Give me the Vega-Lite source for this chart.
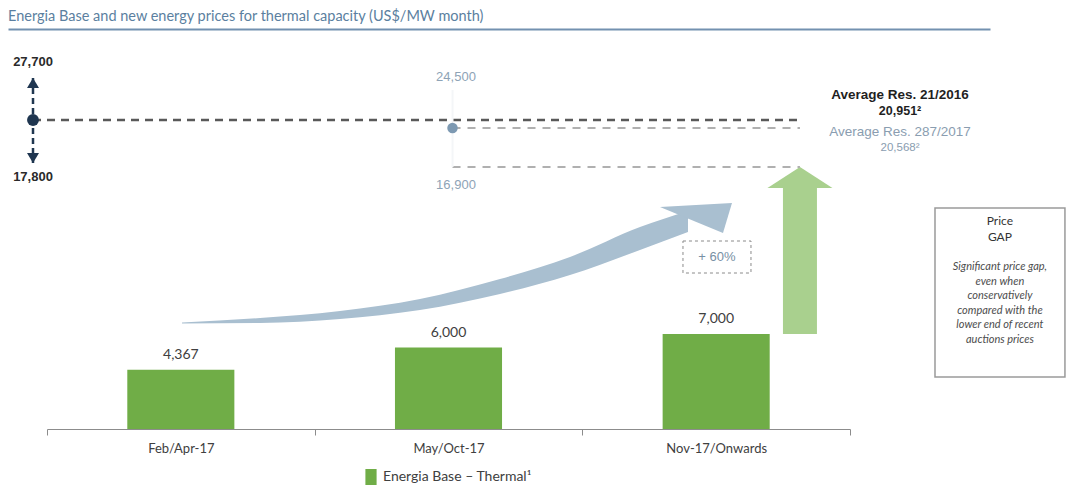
{
  "$schema": "https://vega.github.io/schema/vega-lite/v6.json",
  "width": 982,
  "height": 393,
  "autosize": {"type": "none"},
  "padding": {"left": 8, "top": 36, "right": 80, "bottom": 59},
  "background": "white",
  "title": {
    "text": "Energia Base and new energy prices for thermal capacity (US$/MW month)",
    "anchor": "start",
    "frame": "group",
    "font": "Lato",
    "fontSize": 14.5,
    "fontWeight": "normal",
    "color": "#5b7fa0",
    "offset": 5
  },
  "config": {"view": {"stroke": null}},
  "datasets": {
    "thermal": [
      {"period": "Feb/Apr-17", "value": 4367},
      {"period": "May/Oct-17", "value": 6000},
      {"period": "Nov-17/Onwards", "value": 7000}
    ],
    "auctions": [
      {"res": "21/2016", "title": "Average Res. 21/2016", "low": 17800, "avg": 20951, "high": 27700, "avg_label": "20,951²"},
      {"res": "287/2017", "title": "Average Res. 287/2017", "low": 16900, "avg": 20568, "high": 24500, "avg_label": "20,568²"}
    ],
    "trend": [
      {"t": 0.5044, "upper": 7682, "lower": 7622},
      {"t": 0.7958, "upper": 7949, "lower": 7652},
      {"t": 1.0946, "upper": 8363, "lower": 7889},
      {"t": 1.3935, "upper": 9075, "lower": 8423},
      {"t": 1.6924, "upper": 10260, "lower": 9371},
      {"t": 1.9539, "upper": 11565, "lower": 10498},
      {"t": 2.2154, "upper": 13343, "lower": 11980},
      {"t": 2.3947, "upper": 14291, "lower": 13047}
    ],
    "arrows": [
      {"arrow": "growth"},
      {"arrow": "gap"}
    ],
    "notes": [
      {"id": "growth", "text": "+ 60%"},
      {"id": "gap", "text": "Price GAP"}
    ]
  },
  "layer": [
    {
      "data": {"name": "thermal"},
      "encoding": {
        "x": {
          "field": "period",
          "type": "nominal",
          "sort": null,
          "scale": {"range": [39, 842], "paddingInner": 0, "paddingOuter": 0},
          "axis": {
            "orient": "bottom",
            "title": null,
            "labelAngle": 0,
            "tickBand": "extent",
            "domainColor": "#8c8c8c",
            "tickColor": "#8c8c8c",
            "tickSize": 6,
            "labelFont": "Lato",
            "labelFontSize": 13,
            "labelColor": "#404040",
            "labelPadding": 7
          }
        },
        "y": {
          "field": "value",
          "type": "quantitative",
          "scale": {
            "domain": [0, 7000, 16900, 17800, 20568, 20951, 24500, 27700],
            "range": [393, 298, 131, 127, 92, 84, 54, 42],
            "nice": false,
            "zero": false
          },
          "axis": null
        }
      },
      "layer": [
        {
          "mark": {"type": "bar", "width": {"band": 0.4}},
          "encoding": {
            "color": {
              "datum": "Energia Base – Thermal¹",
              "scale": {"range": ["#70ad47"]},
              "legend": {
                "orient": "none",
                "legendX": 355,
                "legendY": 433,
                "title": null,
                "direction": "horizontal",
                "symbolType": "M-0.7,-1L0.7,-1L0.7,1L-0.7,1Z",
                "symbolSize": 256,
                "symbolStrokeWidth": 0,
                "labelFont": "Lato",
                "labelFontSize": 14,
                "labelColor": "#404040"
              }
            }
          }
        },
        {
          "mark": {"type": "text", "baseline": "bottom", "dy": -8, "font": "Lato", "fontSize": 14, "color": "#404040"},
          "encoding": {"text": {"field": "value", "type": "quantitative", "format": ","}}
        }
      ]
    },
    {
      "layer": [
        {
          "data": {"name": "trend"},
          "mark": {"type": "area", "interpolate": "monotone", "color": "#a9bfd0"},
          "encoding": {
            "x": {
              "field": "t",
              "type": "quantitative",
              "scale": {"domain": [-0.1457, 3.523], "nice": false, "zero": false},
              "axis": {
                "orient": "top",
                "offset": 7,
                "ticks": false,
                "labels": false,
                "grid": false,
                "title": null,
                "domainColor": "#7391b0",
                "domainWidth": 2
              }
            },
            "y": {"field": "upper", "type": "quantitative", "axis": null},
            "y2": {"field": "lower"}
          }
        },
        {
          "data": {"name": "arrows"},
          "transform": [{"filter": "datum.arrow === 'growth'"}],
          "mark": {"type": "point", "shape": "M0.9,-0.375L-0.9,-0.275L0.675,0.375Z", "size": 6400, "filled": true, "opacity": 1, "strokeWidth": 0, "color": "#a9bfd0"},
          "encoding": {
            "x": {"datum": 2.4246, "type": "quantitative"},
            "y": {"datum": 13876, "type": "quantitative", "axis": null}
          }
        },
        {
          "data": {"name": "arrows"},
          "transform": [{"filter": "datum.arrow === 'gap'"}],
          "mark": {"type": "rule", "strokeWidth": 34, "strokeCap": "butt", "color": "#a9d08e"},
          "encoding": {
            "x": {"datum": 2.813, "type": "quantitative"},
            "y": {"datum": 7000, "type": "quantitative", "axis": null},
            "y2": {"datum": 15655}
          }
        },
        {
          "data": {"name": "arrows"},
          "transform": [{"filter": "datum.arrow === 'gap'"}],
          "mark": {"type": "point", "shape": "M0,0L1,0.646L-1,0.646Z", "size": 4225, "filled": true, "opacity": 1, "strokeWidth": 0, "color": "#a9d08e"},
          "encoding": {
            "x": {"datum": 2.813, "type": "quantitative"},
            "y": {"datum": 16900, "type": "quantitative", "axis": null}
          }
        },
        {
          "data": {"name": "auctions"},
          "transform": [{"filter": "datum.res === '21/2016'"}],
          "mark": {"type": "rule", "strokeWidth": 2.5, "strokeDash": [8, 6], "color": "#595959"},
          "encoding": {
            "x": {"datum": -0.0523, "type": "quantitative"},
            "x2": {"datum": 2.813},
            "y": {"field": "avg", "type": "quantitative", "axis": null}
          }
        },
        {
          "data": {"name": "auctions"},
          "transform": [{"filter": "datum.res === '287/2017'"}],
          "mark": {"type": "rule", "strokeWidth": 2, "strokeDash": [8, 7], "color": "#b0b0b0"},
          "encoding": {
            "x": {"datum": 1.515, "type": "quantitative"},
            "x2": {"datum": 2.813},
            "y": {"field": "avg", "type": "quantitative", "axis": null}
          }
        },
        {
          "data": {"name": "auctions"},
          "transform": [{"filter": "datum.res === '287/2017'"}],
          "mark": {"type": "rule", "strokeWidth": 2, "strokeDash": [8, 7], "color": "#b0b0b0"},
          "encoding": {
            "x": {"datum": 1.515, "type": "quantitative"},
            "x2": {"datum": 2.813},
            "y": {"field": "low", "type": "quantitative", "axis": null}
          }
        },
        {
          "data": {"name": "auctions"},
          "transform": [{"filter": "datum.res === '21/2016'"}],
          "mark": {"type": "rule", "strokeWidth": 2.5, "strokeDash": [6, 4], "color": "#1f3650"},
          "encoding": {
            "x": {"datum": -0.0523, "type": "quantitative"},
            "y": {"field": "high", "type": "quantitative", "axis": null},
            "y2": {"field": "low"}
          }
        },
        {
          "data": {"name": "auctions"},
          "transform": [{"filter": "datum.res === '21/2016'"}],
          "mark": {"type": "point", "shape": "M0,0L0.6,1L-0.6,1Z", "size": 400, "filled": true, "opacity": 1, "strokeWidth": 0, "color": "#1f3650"},
          "encoding": {
            "x": {"datum": -0.0523, "type": "quantitative"},
            "y": {"field": "high", "type": "quantitative", "axis": null}
          }
        },
        {
          "data": {"name": "auctions"},
          "transform": [{"filter": "datum.res === '21/2016'"}],
          "mark": {"type": "point", "shape": "M0,0L0.6,-1L-0.6,-1Z", "size": 400, "filled": true, "opacity": 1, "strokeWidth": 0, "color": "#1f3650"},
          "encoding": {
            "x": {"datum": -0.0523, "type": "quantitative"},
            "y": {"field": "low", "type": "quantitative", "axis": null}
          }
        },
        {
          "data": {"name": "auctions"},
          "transform": [{"filter": "datum.res === '21/2016'"}],
          "mark": {"type": "point", "shape": "circle", "size": 140, "filled": true, "opacity": 1, "strokeWidth": 0, "color": "#1f3650"},
          "encoding": {
            "x": {"datum": -0.0523, "type": "quantitative"},
            "y": {"field": "avg", "type": "quantitative", "axis": null}
          }
        },
        {
          "data": {"name": "auctions"},
          "transform": [{"filter": "datum.res === '21/2016'"}],
          "mark": {"type": "text", "baseline": "bottom", "dy": -9, "font": "Liberation Sans", "fontSize": 13, "fontWeight": "bold", "color": "#2a2a2a"},
          "encoding": {
            "x": {"datum": -0.0523, "type": "quantitative"},
            "y": {"field": "high", "type": "quantitative", "axis": null},
            "text": {"field": "high", "type": "quantitative", "format": ","}
          }
        },
        {
          "data": {"name": "auctions"},
          "transform": [{"filter": "datum.res === '21/2016'"}],
          "mark": {"type": "text", "baseline": "top", "dy": 8, "font": "Liberation Sans", "fontSize": 13, "fontWeight": "bold", "color": "#2a2a2a"},
          "encoding": {
            "x": {"datum": -0.0523, "type": "quantitative"},
            "y": {"field": "low", "type": "quantitative", "axis": null},
            "text": {"field": "low", "type": "quantitative", "format": ","}
          }
        },
        {
          "data": {"name": "auctions"},
          "transform": [{"filter": "datum.res === '287/2017'"}],
          "mark": {"type": "rule", "strokeWidth": 2, "color": "#f4f6f8"},
          "encoding": {
            "x": {"datum": 1.515, "type": "quantitative"},
            "y": {"field": "high", "type": "quantitative", "axis": null},
            "y2": {"field": "low"}
          }
        },
        {
          "data": {"name": "auctions"},
          "transform": [{"filter": "datum.res === '287/2017'"}],
          "mark": {"type": "point", "shape": "circle", "size": 110, "filled": true, "opacity": 1, "strokeWidth": 0, "color": "#7d99b2"},
          "encoding": {
            "x": {"datum": 1.515, "type": "quantitative"},
            "y": {"field": "avg", "type": "quantitative", "axis": null}
          }
        },
        {
          "data": {"name": "auctions"},
          "transform": [{"filter": "datum.res === '287/2017'"}],
          "mark": {"type": "text", "baseline": "bottom", "dy": -6, "font": "Liberation Sans", "fontSize": 13, "color": "#8ea3b6"},
          "encoding": {
            "x": {"datum": 1.528, "type": "quantitative"},
            "y": {"field": "high", "type": "quantitative", "axis": null},
            "text": {"field": "high", "type": "quantitative", "format": ","}
          }
        },
        {
          "data": {"name": "auctions"},
          "transform": [{"filter": "datum.res === '287/2017'"}],
          "mark": {"type": "text", "baseline": "top", "dy": 12, "font": "Liberation Sans", "fontSize": 13, "color": "#8ea3b6"},
          "encoding": {
            "x": {"datum": 1.528, "type": "quantitative"},
            "y": {"field": "low", "type": "quantitative", "axis": null},
            "text": {"field": "low", "type": "quantitative", "format": ","}
          }
        },
        {
          "data": {"name": "auctions"},
          "transform": [{"filter": "datum.res === '21/2016'"}],
          "mark": {"type": "text", "baseline": "middle", "dy": -25, "font": "Liberation Sans", "fontSize": 13.5, "fontWeight": "bold", "color": "#1f1f1f"},
          "encoding": {
            "x": {"datum": 3.187, "type": "quantitative"},
            "y": {"field": "avg", "type": "quantitative", "axis": null},
            "text": {"field": "title", "type": "nominal"}
          }
        },
        {
          "data": {"name": "auctions"},
          "transform": [{"filter": "datum.res === '21/2016'"}],
          "mark": {"type": "text", "baseline": "middle", "dy": -9, "font": "Liberation Sans", "fontSize": 12.5, "fontWeight": "bold", "color": "#1f1f1f"},
          "encoding": {
            "x": {"datum": 3.187, "type": "quantitative"},
            "y": {"field": "avg", "type": "quantitative", "axis": null},
            "text": {"field": "avg_label", "type": "nominal"}
          }
        },
        {
          "data": {"name": "auctions"},
          "transform": [{"filter": "datum.res === '287/2017'"}],
          "mark": {"type": "text", "baseline": "middle", "dy": 4, "font": "Liberation Sans", "fontSize": 13.5, "color": "#8a9db0"},
          "encoding": {
            "x": {"datum": 3.187, "type": "quantitative"},
            "y": {"field": "avg", "type": "quantitative", "axis": null},
            "text": {"field": "title", "type": "nominal"}
          }
        },
        {
          "data": {"name": "auctions"},
          "transform": [{"filter": "datum.res === '287/2017'"}],
          "mark": {"type": "text", "baseline": "middle", "dy": 20, "font": "Liberation Sans", "fontSize": 11.5, "color": "#8a9db0"},
          "encoding": {
            "x": {"datum": 3.187, "type": "quantitative"},
            "y": {"field": "avg", "type": "quantitative", "axis": null},
            "text": {"field": "avg_label", "type": "nominal"}
          }
        },
        {
          "data": {"name": "notes"},
          "transform": [{"filter": "datum.id === 'growth'"}],
          "mark": {"type": "rect", "fill": null, "stroke": "#8a8a8a", "strokeWidth": 1, "strokeDash": [3, 3]},
          "encoding": {
            "x": {"datum": 2.376, "type": "quantitative"},
            "x2": {"datum": 2.63},
            "y": {"datum": 12513, "type": "quantitative", "axis": null},
            "y2": {"datum": 10616}
          }
        },
        {
          "data": {"name": "notes"},
          "transform": [{"filter": "datum.id === 'growth'"}],
          "mark": {"type": "text", "baseline": "middle", "font": "Liberation Sans", "fontSize": 13, "color": "#7890a5"},
          "encoding": {
            "x": {"datum": 2.503, "type": "quantitative"},
            "y": {"datum": 11565, "type": "quantitative", "axis": null},
            "text": {"field": "text", "type": "nominal"}
          }
        },
        {
          "data": {"name": "notes"},
          "transform": [{"filter": "datum.id === 'gap'"}],
          "mark": {"type": "rect", "fill": "white", "stroke": "#9a9a9a", "strokeWidth": 1.5},
          "encoding": {
            "x": {"datum": 3.3175, "type": "quantitative"},
            "x2": {"datum": 3.803},
            "y": {"datum": 14469, "type": "quantitative", "axis": null},
            "y2": {"datum": 3831}
          }
        },
        {
          "data": {"name": "notes"},
          "transform": [{"filter": "datum.id === 'gap'"}],
          "mark": {"type": "text", "text": ["Price", "GAP"], "baseline": "top", "dy": 8, "lineHeight": 16, "font": "Lato", "fontSize": 12, "color": "#333333"},
          "encoding": {
            "x": {"datum": 3.56, "type": "quantitative"},
            "y": {"datum": 14469, "type": "quantitative", "axis": null}
          }
        },
        {
          "data": {"name": "notes"},
          "transform": [{"filter": "datum.id === 'gap'"}],
          "mark": {
            "type": "text",
            "text": ["Significant price gap,", "even when", "conservatively", "compared with the", "lower end of recent", "auctions prices"],
            "baseline": "top",
            "dy": 53,
            "lineHeight": 14.6,
            "font": "Lato",
            "fontSize": 11,
            "fontStyle": "italic",
            "color": "#4d4d4d"
          },
          "encoding": {
            "x": {"datum": 3.56, "type": "quantitative"},
            "y": {"datum": 14469, "type": "quantitative", "axis": null}
          }
        }
      ]
    }
  ],
  "resolve": {"scale": {"x": "independent"}}
}
